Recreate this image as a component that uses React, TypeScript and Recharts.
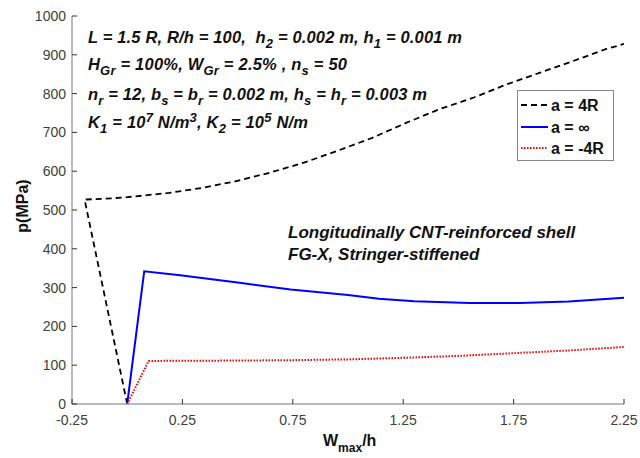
import React from 'react';
import { LineChart, Line, XAxis, YAxis, Legend } from 'recharts';

const xTicks = [-0.25, 0.25, 0.75, 1.25, 1.75, 2.25];
const yTicks = [0, 100, 200, 300, 400, 500, 600, 700, 800, 900, 1000];

const xA4R = [0, -0.193, -0.1, 0.0, 0.19, 0.34, 0.49, 0.645, 0.8, 0.95, 1.11, 1.265, 1.415, 1.57, 1.72, 1.87, 2.02, 2.17, 2.25];
const pA4R = [0, 527, 529, 533, 544, 557, 574, 596, 622, 652, 686, 725, 760, 790, 824, 854, 884, 915, 928];

const xAInf = [0, 0.077, 0.24, 0.5, 0.74, 1.0, 1.14, 1.3, 1.55, 1.78, 2.0, 2.25];
const pAInf = [0, 342, 332, 313, 295, 281, 271, 265, 260, 260, 264, 274];

const xAm4R = [0, 0.097, 0.5, 0.75, 1.0, 1.25, 1.5, 1.75, 2.0, 2.25];
const pAm4R = [0, 111, 112, 113, 115, 119, 124, 131, 138, 147];

const legendNames = ['a = 4R', 'a = \u221E', 'a = -4R'];

const toData = (xs: number[], ys: number[]) => xs.map((x, i) => ({ x, p: ys[i] }));
const dataA4R = toData(xA4R, pA4R);
const dataAInf = toData(xAInf, pAInf);
const dataAm4R = toData(xAm4R, pAm4R);

const FONT = '"Liberation Sans", Arial, sans-serif';
const TICK_COLOR = '#333';
const LABEL_COLOR = '#404040';
const AXIS_COLOR = '#777';

const BottomTick = (props: any) => {
  const { x, y, payload } = props;
  return (
    <g>
      <line x1={x} y1={y} x2={x} y2={y - 5} stroke={TICK_COLOR} />
      <text x={x} y={y + 21} textAnchor="middle" fontFamily={FONT} fontSize={14} fill={LABEL_COLOR}>
        {payload.value}
      </text>
    </g>
  );
};
const TopTick = (props: any) => {
  const { x, y } = props;
  return <line x1={x} y1={y} x2={x} y2={y + 5} stroke={TICK_COLOR} />;
};
const LeftTick = (props: any) => {
  const { x, y, payload } = props;
  return (
    <g>
      <line x1={x} y1={y} x2={x + 5} y2={y} stroke={TICK_COLOR} />
      <text x={x - 6} y={y + 5} textAnchor="end" fontFamily={FONT} fontSize={14} fill={LABEL_COLOR}>
        {payload.value}
      </text>
    </g>
  );
};
const RightTick = (props: any) => {
  const { x, y } = props;
  return <line x1={x} y1={y} x2={x - 5} y2={y} stroke={TICK_COLOR} />;
};

const LegendBox = () => (
  <div
    style={{
      width: 97,
      height: 71,
      border: '1px solid #888',
      background: '#fff',
      boxSizing: 'border-box',
    }}
  >
    <svg width={95} height={69} style={{ display: 'block' }}>
      <line x1={3} y1={14} x2={30} y2={14} stroke="#000" strokeWidth={1.8} strokeDasharray="6 4" />
      <line x1={3} y1={36} x2={30} y2={36} stroke="#0000ff" strokeWidth={2} />
      <line x1={3} y1={57} x2={30} y2={57} stroke="#ff0000" strokeWidth={2} strokeDasharray="1.5 1.5" />
      <text x={33} y={20} fill="#111" fontFamily={FONT} fontWeight="bold" fontSize={16}>{legendNames[0]}</text>
      <text x={33} y={42} fill="#111" fontFamily={FONT} fontWeight="bold" fontSize={16}>{legendNames[1]}</text>
      <text x={33} y={63} fill="#111" fontFamily={FONT} fontWeight="bold" fontSize={16}>{legendNames[2]}</text>
    </svg>
  </div>
);

const annStyle = { fontFamily: FONT, fontWeight: 'bold' as const, fontStyle: 'italic' as const, fontSize: 16.5, fill: '#111' };
const SS = 13;

export default function App() {
  return (
    <div style={{ position: 'absolute', left: 0, top: 0, width: 640, height: 458, background: '#fff' }}>
      <LineChart width={640} height={458} margin={{ top: 16, right: 16, bottom: 24, left: 0 }}>
        <XAxis
          xAxisId="b"
          type="number"
          dataKey="x"
          domain={[-0.25, 2.25]}
          ticks={xTicks}
          allowDataOverflow
          height={30}
          tickSize={0}
          tickMargin={0}
          tickLine={false}
          axisLine={{ stroke: AXIS_COLOR }}
          tick={<BottomTick />}
          interval={0}
        />
        <XAxis
          xAxisId="t"
          orientation="top"
          type="number"
          dataKey="x"
          domain={[-0.25, 2.25]}
          ticks={xTicks}
          allowDataOverflow
          height={0}
          tickSize={0}
          tickMargin={0}
          tickLine={false}
          axisLine={{ stroke: AXIS_COLOR }}
          tick={<TopTick />}
          interval={0}
        />
        <YAxis
          yAxisId="l"
          type="number"
          domain={[0, 1000]}
          ticks={yTicks}
          allowDataOverflow
          width={72}
          tickSize={0}
          tickMargin={0}
          tickLine={false}
          axisLine={{ stroke: AXIS_COLOR }}
          tick={<LeftTick />}
          interval={0}
        />
        <YAxis
          yAxisId="r"
          orientation="right"
          type="number"
          domain={[0, 1000]}
          ticks={yTicks}
          allowDataOverflow
          width={0}
          tickSize={0}
          tickMargin={0}
          tickLine={false}
          axisLine={{ stroke: AXIS_COLOR }}
          tick={<RightTick />}
          interval={0}
        />
        <Line xAxisId="b" yAxisId="l" data={dataA4R} dataKey="p" name={legendNames[0]} stroke="#000" strokeWidth={1.8} strokeDasharray="6 4" dot={false} isAnimationActive={false} type="linear" />
        <Line xAxisId="b" yAxisId="l" data={dataAInf} dataKey="p" name={legendNames[1]} stroke="#0000ff" strokeWidth={2} dot={false} isAnimationActive={false} type="linear" />
        <Line xAxisId="b" yAxisId="l" data={dataAm4R} dataKey="p" name={legendNames[2]} stroke="#ff0000" strokeWidth={2} strokeDasharray="1.5 1.5" dot={false} isAnimationActive={false} type="linear" />
        <Legend
          layout="vertical"
          align="center"
          verticalAlign="middle"
          content={<LegendBox />}
          wrapperStyle={{ position: 'absolute', left: 517, top: 90, width: 97, height: 71, right: 'auto', bottom: 'auto' }}
        />
      </LineChart>
      <svg width={640} height={458} style={{ position: 'absolute', left: 0, top: 0, pointerEvents: 'none' }}>
        <text x={88} y={43} {...annStyle} textLength={374} lengthAdjust="spacing">
          L = 1.5 R, R/h = 100,{'\u00A0\u00A0'}h<tspan dy={5} fontSize={SS}>2</tspan><tspan dy={-5}> = 0.002 m, h</tspan><tspan dy={5} fontSize={SS}>1</tspan><tspan dy={-5}> = 0.001 m</tspan>
        </text>
        <text x={88} y={70} {...annStyle} textLength={259} lengthAdjust="spacing">
          H<tspan dy={5} fontSize={SS}>Gr</tspan><tspan dy={-5}> = 100%, W</tspan><tspan dy={5} fontSize={SS}>Gr</tspan><tspan dy={-5}> = 2.5% , n</tspan><tspan dy={5} fontSize={SS}>s</tspan><tspan dy={-5}> = 50</tspan>
        </text>
        <text x={88} y={100} {...annStyle} textLength={339} lengthAdjust="spacing">
          n<tspan dy={5} fontSize={SS}>r</tspan><tspan dy={-5}> = 12, b</tspan><tspan dy={5} fontSize={SS}>s</tspan><tspan dy={-5}> = b</tspan><tspan dy={5} fontSize={SS}>r</tspan><tspan dy={-5}> = 0.002 m, h</tspan><tspan dy={5} fontSize={SS}>s</tspan><tspan dy={-5}> = h</tspan><tspan dy={5} fontSize={SS}>r</tspan><tspan dy={-5}> = 0.003 m</tspan>
        </text>
        <text x={88} y={128} {...annStyle} textLength={220} lengthAdjust="spacing">
          K<tspan dy={5} fontSize={SS}>1</tspan><tspan dy={-5}> = 10</tspan><tspan dy={-6} fontSize={SS}>7</tspan><tspan dy={6}> N/m</tspan><tspan dy={-6} fontSize={SS}>3</tspan><tspan dy={6}>, K</tspan><tspan dy={5} fontSize={SS}>2</tspan><tspan dy={-5}> = 10</tspan><tspan dy={-6} fontSize={SS}>5</tspan><tspan dy={6}> N/m</tspan>
        </text>
        <text x={288} y={238} {...annStyle} fontSize={17}>Longitudinally CNT-reinforced shell</text>
        <text x={288} y={260} {...annStyle} fontSize={17}>FG-X, Stringer-stiffened</text>
        <text x={323} y={446} fontFamily={FONT} fontWeight="bold" fontSize={16} fill="#111">
          W<tspan dy={6} fontSize={12}>max</tspan><tspan dy={-6}>/h</tspan>
        </text>
        <text x={0} y={0} transform="translate(22,206) rotate(-90)" textAnchor="middle" dominantBaseline="central" fontFamily={FONT} fontWeight="bold" fontSize={16} fill="#111">
          p(MPa)
        </text>
      </svg>
    </div>
  );
}
